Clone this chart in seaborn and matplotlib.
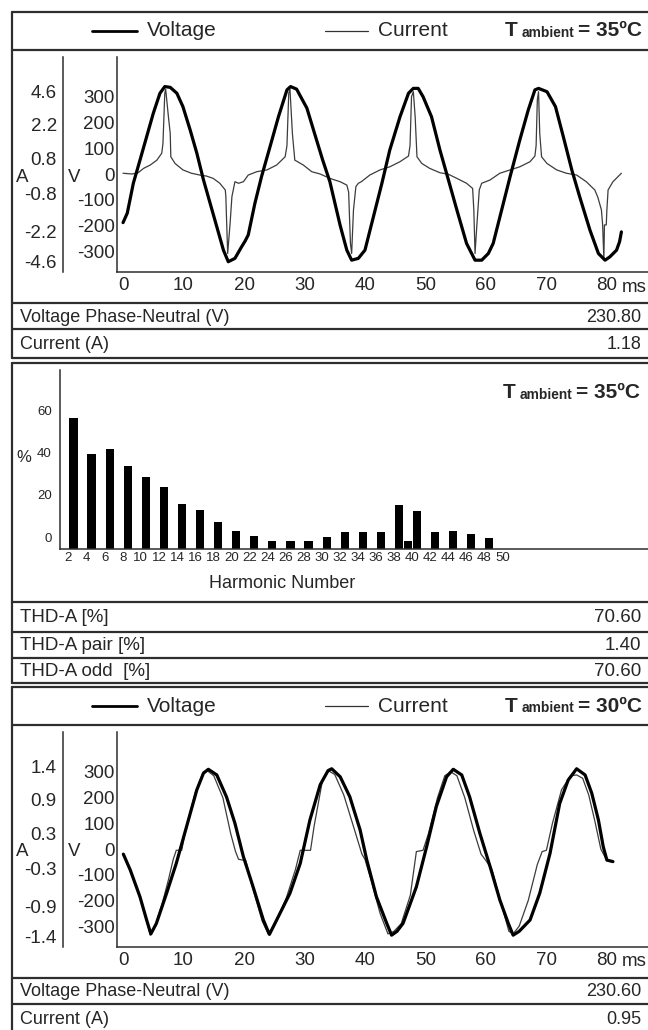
import matplotlib
matplotlib.use("Agg")
import matplotlib.pyplot as plt
import matplotlib.transforms as mtransforms
import seaborn as sns

# -----------------------------
# Waveforms, T ambient = 35 C  (time in ms, current drawn on the V scale)
# -----------------------------
t_volt_35 = [
    0.0, 0.7, 1.7, 2.8, 3.9, 5.0, 6.1, 6.9, 7.8, 8.9,
    9.9, 11.1, 12.2, 13.3, 14.4, 15.5, 16.6, 17.4, 18.5, 19.6,
    20.2, 20.7, 21.8, 22.9, 24.3, 25.7, 27.1, 27.7, 28.7, 30.4,
    32.0, 33.0, 34.2, 35.9, 37.0, 37.8, 38.9, 40.0, 41.4, 42.8,
    44.1, 45.8, 47.2, 48.0, 48.8, 49.6, 51.0, 52.4, 53.8, 55.2,
    56.8, 58.2, 59.3, 60.4, 61.2, 62.6, 64.0, 65.6, 67.0, 68.1,
    68.7, 70.1, 71.5, 72.8, 74.2, 75.5, 77.2, 78.6, 79.7, 80.5,
    81.6, 82.1, 82.4]
volt_35 = [
    -189, -152, -36, 54, 145, 236, 314, 340, 337, 314,
    262, 171, 81, -23, -114, -205, -296, -341, -328, -283,
    -260, -237, -114, -10, 106, 223, 327, 340, 330, 256,
    132, 55, -30, -200, -296, -335, -328, -296, -166, -36,
    93, 223, 314, 333, 333, 301, 223, 93, -23, -140,
    -270, -335, -335, -309, -270, -140, -10, 132, 249, 327,
    333, 320, 262, 145, 16, -88, -218, -309, -335, -322,
    -296, -263, -225]

t_curr_35 = [
    0.0, 1.5, 2.5, 3.4, 4.5, 5.6, 6.4, 6.6, 6.9, 7.05,
    7.5, 7.8, 7.9, 8.6, 9.9, 11.3, 12.7, 13.8, 14.9, 16.0,
    16.9, 17.0, 17.1, 17.3, 17.7, 18.0, 18.5, 19.1, 19.9, 20.7,
    22.1, 23.8, 25.4, 26.8, 27.1, 27.4, 27.6, 28.0, 28.4, 29.8,
    31.2, 32.6, 34.2, 35.9, 37.0, 37.3, 37.6, 37.8, 38.1, 38.5,
    38.9, 39.4, 40.8, 42.5, 44.1, 45.8, 47.2, 47.45, 47.7, 48.0,
    48.3, 48.6, 49.4, 50.7, 52.4, 53.8, 55.2, 56.8, 57.8, 58.0,
    58.2, 58.5, 58.9, 59.3, 60.7, 62.3, 64.0, 65.6, 67.3, 68.1,
    68.3, 68.5, 68.7, 68.9, 69.2, 70.1, 71.7, 73.3, 75.0, 76.6,
    78.0, 78.5, 79.1, 79.3, 79.5, 79.6, 79.9, 80.0, 80.2, 81.0,
    82.4]
curr_35 = [
    3, 0, 5, 22, 35, 54, 81, 119, 314, 330,
    223, 158, 67, 41, 16, 3, -4, -8, -17, -36,
    -62, -88, -166, -309, -192, -88, -30, -36, -30, -4,
    9, 16, 35, 67, 110, 314, 330, 158, 54, 35,
    9, 0, -17, -30, -43, -70, -270, -309, -140, -49,
    -36, -30, -4, 16, 28, 48, 70, 110, 301, 320,
    223, 67, 41, 22, 5, -1, -17, -36, -56, -140,
    -309, -200, -62, -36, -23, 3, 16, 28, 48, 70,
    110, 288, 320, 158, 67, 41, 16, 3, -4, -30,
    -62, -90, -140, -198, -330, -198, -198, -140, -62, -30,
    3]

# -----------------------------
# Waveforms, T ambient = 30 C
# -----------------------------
t_volt_30 = [
    0.05, 1.2, 2.8, 3.9, 4.6, 5.5, 7.2, 8.8, 10.5, 12.2,
    13.3, 14.1, 15.5, 17.1, 18.5, 19.9, 21.5, 23.2, 24.2, 25.4,
    27.6, 29.3, 30.9, 32.6, 33.9, 34.5, 35.9, 37.5, 39.2, 40.3,
    41.9, 43.6, 44.4, 45.3, 46.3, 48.5, 50.2, 51.8, 53.5, 54.6,
    56.0, 57.3, 59.0, 60.7, 62.3, 63.7, 64.5, 65.5, 67.3, 68.9,
    70.6, 72.2, 73.6, 75.0, 76.4, 77.5, 78.6, 79.4, 80.0, 81.0]
volt_30 = [
    -20, -82, -186, -276, -330, -290, -172, -56, 87, 230,
    295, 310, 288, 203, 100, -30, -147, -276, -332, -276,
    -172, -56, 113, 250, 305, 312, 281, 203, 74, -43,
    -186, -289, -335, -320, -289, -147, 9, 165, 281, 310,
    288, 203, 61, -69, -198, -289, -335, -320, -276, -172,
    -17, 177, 268, 312, 288, 217, 113, 9, -43, -49]

t_curr_30 = [
    0.3, 1.2, 2.8, 3.9, 4.5, 5.3, 6.5, 7.5, 8.3, 8.8,
    9.7, 10.3, 12.0, 13.3, 13.9, 15.0, 16.5, 17.8, 18.6, 19.1,
    20.3, 21.3, 23.0, 24.0, 25.0, 27.0, 28.5, 29.3, 31.0, 31.6,
    33.0, 33.9, 35.0, 36.5, 38.2, 39.5, 40.0, 41.0, 42.5, 43.8,
    44.8, 46.0, 47.5, 48.5, 49.6, 50.5, 52.0, 53.2, 54.2, 55.2,
    56.5, 58.0, 59.2, 60.0, 61.0, 62.5, 63.8, 64.5, 65.5, 67.0,
    68.5, 69.3, 70.0, 71.0, 72.5, 74.0, 75.0, 76.0, 77.0, 78.0,
    79.0, 80.0, 81.0]
curr_30 = [
    -30, -85, -190, -280, -335, -300, -210, -120, -40, -5,
    -5, 70, 225, 300, 305, 285, 200, 60, -10, -40,
    -45, -140, -280, -330, -300, -190, -80, -5, -5, 90,
    270, 305, 290, 210, 80, -20, -40, -120, -250, -330,
    -320, -290, -180, -10, -5, 60, 200, 285, 300, 285,
    200, 70, -20, -45, -80, -210, -320, -330, -300, -200,
    -60, -10, -5, 100, 230, 285, 288, 275, 210, 110,
    0, -45, -50]

# axis ticks
time_ticks = [0, 10, 20, 30, 40, 50, 60, 70, 80]
volt_ticks = [300, 200, 100, 0, -100, -200, -300]
amp_tick_pos = [322, 192, 62, -74, -225, -342]  # where the A labels sit on the V scale
amp_labels_35 = ["4.6", "2.2", "0.8", "-0.8", "-2.2", "-4.6"]
amp_labels_30 = ["1.4", "0.9", "0.3", "-0.3", "-0.9", "-1.4"]

# -----------------------------
# Harmonic spectrum (% of fundamental)
# -----------------------------
harmonic_order = [3, 5, 7, 9, 11, 13, 15, 17, 19, 21, 23, 25, 27, 29,
                  31, 33, 35, 37, 39, 40, 41, 43, 45, 47, 49]
harmonic_pct = [62.0, 44.8, 47.2, 39.3, 34.0, 29.2, 21.5, 18.2, 12.7, 8.6,
                6.1, 3.8, 3.8, 3.8, 5.5, 7.9, 8.0, 8.0, 20.6, 3.6,
                17.9, 8.0, 8.6, 7.1, 5.3]
harmonic_ticks = list(range(2, 51, 2))
pct_ticks = [0, 20, 40, 60]

# -----------------------------
# Tables
# -----------------------------
rows_35 = ["Voltage Phase-Neutral (V)", "Current (A)"]
vals_35 = ["230.80", "1.18"]
thd_rows = ["THD-A [%]", "THD-A pair [%]", "THD-A odd  [%]"]
thd_vals = ["70.60", "1.40", "70.60"]
rows_30 = ["Voltage Phase-Neutral (V)", "Current (A)"]
vals_30 = ["230.60", "0.95"]

# -----------------------------
# Figure setup
# -----------------------------
sns.set_style("white")
plt.rcParams["font.family"] = ["Liberation Sans", "DejaVu Sans"]
plt.rcParams["axes.unicode_minus"] = False

W, H = 648, 1030
LINE = "#2e2e2e"

fig = plt.figure(figsize=(W / 100, H / 100), dpi=100)
bg = fig.add_axes([0, 0, 1, 1])
bg.set_xlim(0, W)
bg.set_ylim(H, 0)
bg.axis("off")


def px_axes(x0, y0, x1, y1):
    ax = fig.add_axes([x0 / W, 1 - y1 / H, (x1 - x0) / W, (y1 - y0) / H])
    ax.set_facecolor("none")
    return ax


def frame(top, bottom, dividers):
    bg.plot([12, 12], [top, bottom], color=LINE, lw=1.6, clip_on=False)
    for y in [top, bottom] + dividers:
        bg.plot([12, W + 10], [y, y], color=LINE, lw=1.6, clip_on=False)


def table(lines, labels, values, size=13):
    for y0, y1, lab, val in zip(lines[:-1], lines[1:], labels, values):
        yc = (y0 + y1) / 2 + 1
        bg.text(20, yc, lab, fontsize=size, va="center", ha="left")
        bg.text(641, yc, val, fontsize=size, va="center", ha="right")


def t_ambient(x, yc, temp, size=15):
    t1 = bg.text(x, yc, "T", fontsize=size, fontweight="bold", va="center")
    t2 = bg.annotate("ambient", xy=(1, 0), xycoords=t1, xytext=(2.5, 0.5),
                     textcoords="offset points", fontsize=size * 0.66,
                     fontweight="bold", va="bottom")
    bg.annotate(f"= {temp}ºC", xy=(1, 0.5), xycoords=(t2, t1), xytext=(3, 0),
                textcoords="offset points", fontsize=size,
                fontweight="bold", va="center")


def wave_panel(top, temp, t_v, v, t_c, c, amp_labels, rows, vals):
    frame(top, top + 346, [top + 38, top + 291, top + 317])

    # legend row
    yc = top + 19
    bg.plot([92, 137], [yc, yc], color="black", lw=2.0)
    bg.text(147, yc, "Voltage", fontsize=15, va="center")
    bg.plot([325, 368], [yc, yc], color="#333333", lw=0.9)
    bg.text(378, yc, "Current", fontsize=15, va="center")
    t_ambient(505, yc, temp)

    # waveform axes
    ax = px_axes(117, top + 45, W, top + 260)
    sns.lineplot(x=t_c, y=c, ax=ax, color="#3c3c3c", lw=0.9,
                 estimator=None, sort=False)
    sns.lineplot(x=t_v, y=v, ax=ax, color="black", lw=2.3,
                 estimator=None, sort=False)
    ax.set_xlim(-1.0, 86.8)
    ax.set_ylim(-381, 455)
    ax.set_xticks(time_ticks)
    ax.set_yticks(volt_ticks)
    ax.tick_params(axis="both", length=0, labelsize=13.5)
    ax.tick_params(axis="x", pad=3.5)
    ax.tick_params(axis="y", pad=1.5)
    sns.despine(ax=ax)
    for s in ["left", "bottom"]:
        ax.spines[s].set_color(LINE)
        ax.spines[s].set_linewidth(1.1)
    ax.set_xlabel("")
    ax.set_ylabel("")

    # current axis (separate spine on the left)
    ax_a = px_axes(63, top + 45, 64, top + 260)
    ax_a.set_ylim(ax.get_ylim())
    ax_a.set_xticks([])
    ax_a.set_yticks(amp_tick_pos, amp_labels)
    ax_a.tick_params(length=0, labelsize=13.5, pad=4.5)
    for s in ["top", "right", "bottom"]:
        ax_a.spines[s].set_visible(False)
    ax_a.spines["left"].set_color(LINE)
    ax_a.spines["left"].set_linewidth(1.1)

    bg.text(22, top + 165, "A", fontsize=13.5, ha="center", va="center")
    bg.text(74, top + 165, "V", fontsize=13.5, ha="center", va="center")
    bg.text(622, top + 275, "ms", fontsize=13.5, ha="left", va="center")

    table([top + 291, top + 317, top + 346], rows, vals)


# -----------------------------
# Panel 1: waveforms at 35 C
# -----------------------------
wave_panel(12, 35, t_volt_35, volt_35, t_curr_35, curr_35,
           amp_labels_35, rows_35, vals_35)

# -----------------------------
# Panel 2: harmonic spectrum
# -----------------------------
frame(363, 683, [602, 632, 658])
t_ambient(503, 393, 35)

ax2 = px_axes(60, 370, W, 549)
sns.barplot(x=harmonic_order, y=harmonic_pct, native_scale=True, orient="x",
            color="black", width=0.9, linewidth=0, errorbar=None, ax=ax2)
ax2.set_xlim(1.51, 66.55)
ax2.set_ylim(0, 84.6)
ax2.set_xticks([h + 0.45 for h in harmonic_ticks], [str(h) for h in harmonic_ticks])
ax2.set_yticks(pct_ticks, [str(p) for p in pct_ticks])
ax2.tick_params(axis="x", length=0, labelsize=9.5, pad=2.5)
ax2.tick_params(axis="y", length=0, labelsize=9.5, pad=6)
sns.despine(ax=ax2)
for s in ["left", "bottom"]:
    ax2.spines[s].set_color(LINE)
    ax2.spines[s].set_linewidth(1.1)
ax2.set_xlabel("")
ax2.set_ylabel("")

# the % labels sit a little above their gridline in the original
lift = mtransforms.ScaledTranslation(0, 12 / 100, fig.dpi_scale_trans)
for tick in ax2.yaxis.get_major_ticks():
    tick.label1.set_transform(tick.label1.get_transform() + lift)

bg.text(24, 458, "%", fontsize=12, ha="center", va="center")
bg.text(282, 584, "Harmonic Number", fontsize=13, ha="center", va="center")

table([602, 632, 658, 683], thd_rows, thd_vals, size=13.5)

# -----------------------------
# Panel 3: waveforms at 30 C
# -----------------------------
wave_panel(687, 30, t_volt_30, volt_30, t_curr_30, curr_30,
           amp_labels_30, rows_30, vals_30)

fig.savefig("out.png", dpi=100)
plt.close(fig)
